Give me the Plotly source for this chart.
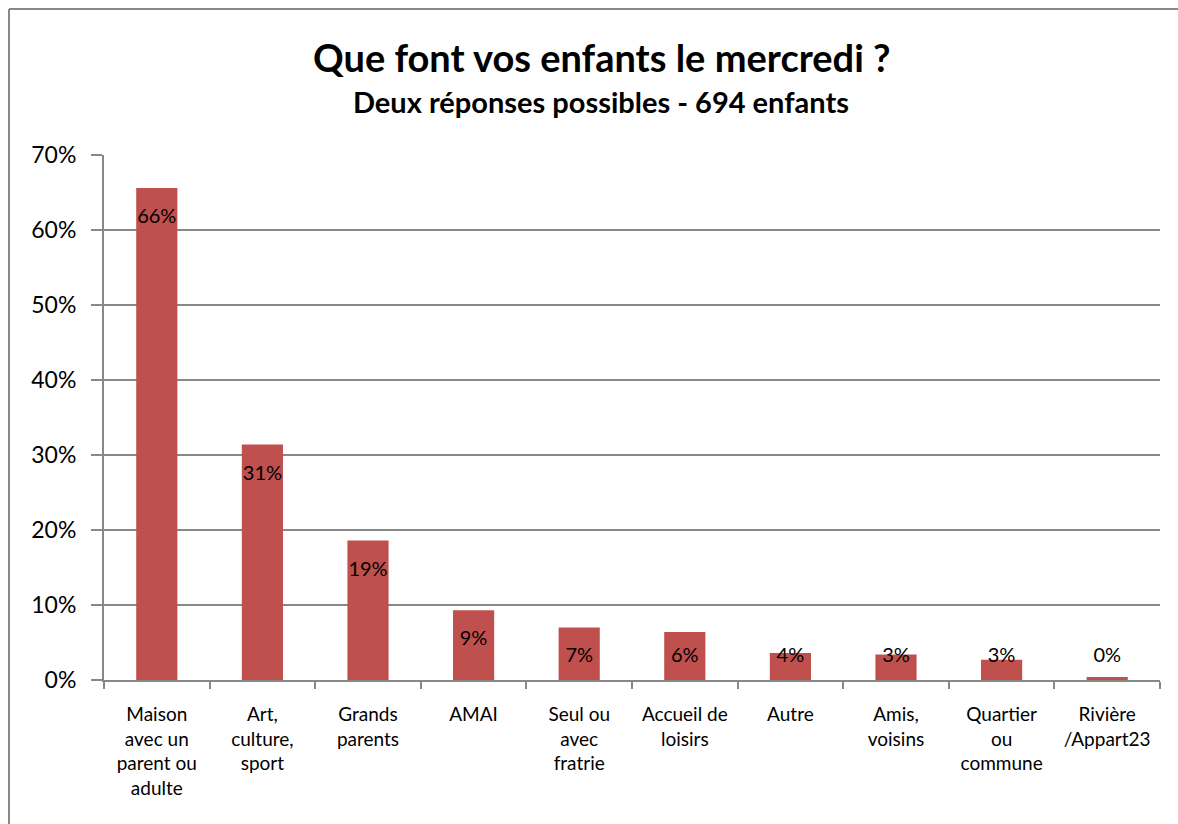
import plotly.graph_objects as go

categories = [
    "Maison<br>avec un<br>parent ou<br>adulte",
    "Art,<br>culture,<br>sport",
    "Grands<br>parents",
    "AMAI",
    "Seul ou<br>avec<br>fratrie",
    "Accueil de<br>loisirs",
    "Autre",
    "Amis,<br>voisins",
    "Quartier<br>ou<br>commune",
    "Rivière<br>/Appart23",
]
values = [65.6, 31.4, 18.6, 9.3, 7.0, 6.4, 3.6, 3.4, 2.7, 0.4]
value_labels = ["66%", "31%", "19%", "9%", "7%", "6%", "4%", "3%", "3%", "0%"]
y_ticks = [0, 10, 20, 30, 40, 50, 60, 70]
y_tick_labels = ["0%", "10%", "20%", "30%", "40%", "50%", "60%", "70%"]

FONT = "Lato"
GRID = "#888888"
BAR = "#C0504D"

W, H = 1178, 824
L, R, T, B = 104, 18, 155, 144
plot_w = W - L - R
plot_h = H - T - B

# Excel-like "inside end" label placement: a fixed offset below the bar top,
# but never lower than a minimum height above the axis.
offset = 30 / plot_h * 70
min_label = 23 / plot_h * 70
label_y = [max(v - offset, min_label) for v in values]

fig = go.Figure()
fig.add_trace(go.Bar(
    x=categories, y=values,
    marker=dict(color=BAR, line=dict(width=0)),
    hoverinfo="skip",
))
fig.add_trace(go.Scatter(
    x=categories, y=label_y, mode="text", text=value_labels,
    textposition="middle center",
    textfont=dict(family=FONT, size=20, color="#000000"),
    hoverinfo="skip",
))

def px_x(px):
    return (px - L) / plot_w

def px_y(py):
    return (H - B - py) / plot_h

fig.update_layout(
    width=W, height=H,
    margin=dict(l=L, r=R, t=T, b=B, pad=0),
    paper_bgcolor="white", plot_bgcolor="white",
    showlegend=False,
    bargap=0.61,
    font=dict(family=FONT, color="#000000"),
    xaxis=dict(
        type="category",
        showline=True, linecolor=GRID, linewidth=2,
        ticks="outside", tickson="boundaries", ticklen=7,
        tickcolor=GRID, tickwidth=2,
        tickfont=dict(family=FONT, size=19, color="#000000"),
        showgrid=False,
        ticklabelstandoff=16,
    ),
    yaxis=dict(
        range=[0, 70],
        tickvals=y_ticks, ticktext=y_tick_labels,
        showline=True, linecolor=GRID, linewidth=2,
        ticks="outside", ticklen=11, tickcolor=GRID, tickwidth=2,
        showgrid=True, gridcolor=GRID, gridwidth=2,
        zeroline=False,
        tickfont=dict(family=FONT, size=23, color="#000000"),
        ticklabelstandoff=10,
    ),
    annotations=[
        dict(text="<b>Que font vos enfants le mercredi ?</b>",
             xref="paper", yref="paper", x=px_x(602), y=px_y(57),
             xanchor="center", yanchor="middle", showarrow=False,
             font=dict(family=FONT, size=38, color="#000000")),
        dict(text="<b>Deux réponses possibles - 694 enfants</b>",
             xref="paper", yref="paper", x=px_x(601), y=px_y(101),
             xanchor="center", yanchor="middle", showarrow=False,
             font=dict(family=FONT, size=29, color="#000000")),
    ],
    shapes=[
        dict(type="line", xref="paper", yref="paper",
             x0=px_x(9), y0=px_y(9), x1=px_x(1200), y1=px_y(9),
             line=dict(color=GRID, width=2)),
        dict(type="line", xref="paper", yref="paper",
             x0=px_x(9), y0=px_y(9), x1=px_x(9), y1=px_y(840),
             line=dict(color=GRID, width=2)),
    ],
)

fig.write_html("out.html", config={"displayModeBar": False},
               post_script="document.body.style.margin='0';")
